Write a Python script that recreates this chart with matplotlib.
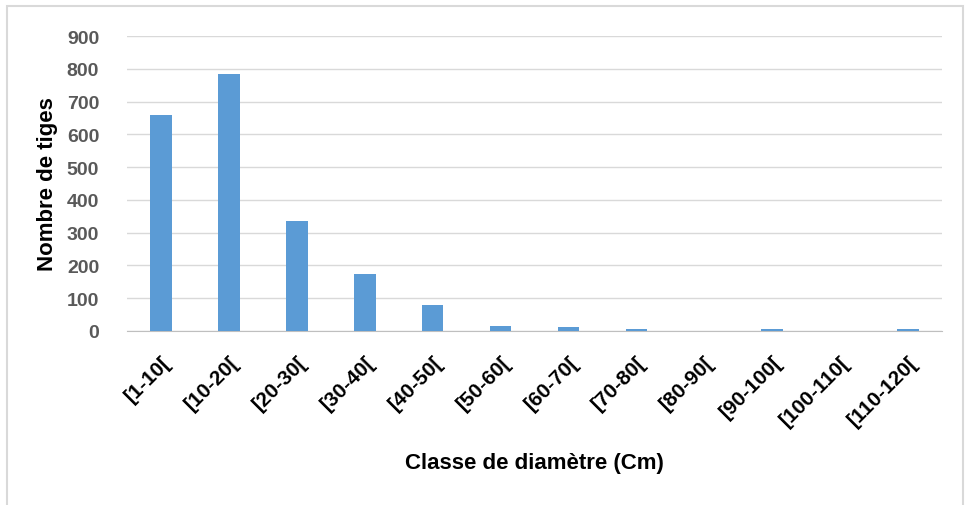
import matplotlib.pyplot as plt
from matplotlib.patches import Rectangle
from matplotlib.transforms import ScaledTranslation
import numpy as np

# diameter classes and number of stems
classes = ['[1-10[', '[10-20[', '[20-30[', '[30-40[', '[40-50[', '[50-60[',
           '[60-70[', '[70-80[', '[80-90[', '[90-100[', '[100-110[', '[110-120[']
stems = [658, 783, 335, 174, 79, 16, 11, 5, 0, 5, 0, 5]
yticks = [0, 100, 200, 300, 400, 500, 600, 700, 800, 900]

plt.rcParams['font.family'] = ['Liberation Sans', 'DejaVu Sans']

fig = plt.figure(figsize=(9.68, 5.06), dpi=100)
# outer chart border
fig.patches.append(Rectangle((7 / 968, -0.01), 956 / 968, 1 - 7 / 506 + 0.01,
                             transform=fig.transFigure, fill=False,
                             edgecolor='#d9d9d9', linewidth=1.5))

ax = fig.add_axes([127 / 968, 1 - 332 / 506, (942 - 127) / 968, (332 - 37) / 506])
x = np.arange(len(classes))
ax.bar(x, stems, width=0.32, color='#5b9bd5', zorder=3)

ax.set_xlim(-0.5, len(classes) - 0.5)
ax.set_ylim(0, 900)
ax.set_yticks(yticks)
ax.set_yticklabels([str(v) for v in yticks], fontsize=14, fontweight='bold', color='#595959')
ax.set_xticks(x)
ax.set_xticklabels(classes, rotation=45, ha='right', va='top', rotation_mode='anchor',
                   fontsize=15, fontweight='bold', color='black')
shift = ScaledTranslation(12 / 100, 0, fig.dpi_scale_trans)
for lab in ax.get_xticklabels():
    lab.set_transform(lab.get_transform() + shift)
ax.tick_params(axis='both', length=0)
ax.tick_params(axis='y', pad=20)
ax.tick_params(axis='x', pad=15)
ax.grid(axis='y', color='#d9d9d9', linewidth=1, zorder=0)
for s in ['top', 'right', 'left']:
    ax.spines[s].set_visible(False)
ax.spines['bottom'].set_color('#bfbfbf')

ax.set_xlabel('Classe de diamètre (Cm)', fontsize=16, fontweight='bold')
ax.xaxis.set_label_coords(534 / 968, 1 - 463 / 506, transform=fig.transFigure)
ax.xaxis.label.set_va('center')
ax.set_ylabel('Nombre de tiges', fontsize=16, fontweight='bold')
ax.yaxis.set_label_coords(48 / 968, 1 - 184 / 506, transform=fig.transFigure)
ax.yaxis.label.set_va('center')

fig.savefig('out.png', dpi=100)
